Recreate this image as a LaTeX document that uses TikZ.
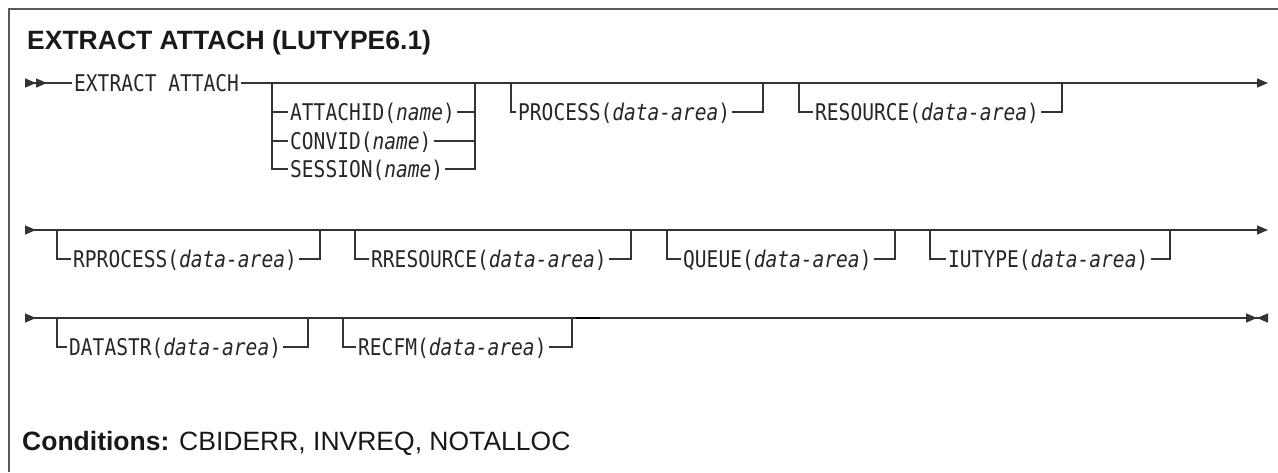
\documentclass[tikz,border=0pt]{standalone}
\usepackage{fontspec}
\setmainfont{Liberation Sans}
\newfontfamily\synfont[FakeStretch=0.85]{DejaVu Sans Mono}
\usetikzlibrary{arrows.meta}

\begin{document}
\begin{tikzpicture}[x=1pt,y=-1pt,
  rtip/.tip={Triangle[length=11pt,width=9pt]},
  ltip/.tip={Triangle[length=11pt,width=9pt,reversed]},
  rail/.style={line width=1.3pt,draw=black!80},
  frame/.style={line width=1.5pt,draw=black!65},
  syn/.style={font=\synfont\fontsize{23}{23}\selectfont,text=black!85,
    inner xsep=2pt,inner ysep=0pt,text height=16.8pt,text depth=0pt,anchor=west},
  head/.style={font=\bfseries\fontsize{26.5}{26.5}\selectfont,text=black!90,
    inner sep=0pt,anchor=base west},
  cond/.style={font=\fontsize{26.5}{26.5}\selectfont,text=black!90,
    inner sep=0pt,anchor=base west}]
  \useasboundingbox (0,0) rectangle (1278,472);
  \draw[frame] (9,472) -- (9,9) -- (1278,9);

  \node[head] (title) at (27,49) {EXTRACT ATTACH (LUTYPE6.1)};

  % first line
  \coordinate (r1s) at (25,83);
  \coordinate (r1e) at (1268,83);
  \node[syn] (cmd) at (72,83) {EXTRACT ATTACH};
  \draw[rail,{ltip[]ltip[]}-] (r1s) -- (cmd.west);
  \draw[rail,-rtip] (cmd.east) -- (r1e);

  \coordinate (a1) at (272,83);  \coordinate (a2) at (475,83);
  \coordinate (b1) at (511,83);  \coordinate (b2) at (763,83);
  \coordinate (c1) at (799,83);  \coordinate (c2) at (1062,83);
  \node[syn] (attachid) at (288,112) {ATTACHID(\textit{name})};
  \node[syn] (convid) at (288,141) {CONVID(\textit{name})};
  \node[syn] (session) at (288,169) {SESSION(\textit{name})};
  \node[syn] (process) at (516,112) {PROCESS(\textit{data-area})};
  \node[syn] (resource) at (813,112) {RESOURCE(\textit{data-area})};
  \foreach \n in {attachid,convid,session}{
    \draw[rail] (a1) |- (\n.west);
    \draw[rail] (\n.east) -| (a2);
  }
  \draw[rail] (b1) |- (process.west);
  \draw[rail] (process.east) -| (b2);
  \draw[rail] (c1) |- (resource.west);
  \draw[rail] (resource.east) -| (c2);

  % second line
  \coordinate (r2s) at (25,230);
  \coordinate (r2e) at (1268,230);
  \draw[rail,ltip-rtip] (r2s) -- (r2e);
  \coordinate (d1) at (57,230);   \coordinate (d2) at (320,230);
  \coordinate (e1) at (355,230);  \coordinate (e2) at (631,230);
  \coordinate (f1) at (667,230);  \coordinate (f2) at (895,230);
  \coordinate (g1) at (930,230);  \coordinate (g2) at (1170,230);
  \node[syn] (rprocess) at (71,259) {RPROCESS(\textit{data-area})};
  \node[syn] (rresource) at (369,259) {RRESOURCE(\textit{data-area})};
  \node[syn] (queue) at (681,259) {QUEUE(\textit{data-area})};
  \node[syn] (iutype) at (946,259) {IUTYPE(\textit{data-area})};
  \draw[rail] (d1) |- (rprocess.west);
  \draw[rail] (rprocess.east) -| (d2);
  \draw[rail] (e1) |- (rresource.west);
  \draw[rail] (rresource.east) -| (e2);
  \draw[rail] (f1) |- (queue.west);
  \draw[rail] (queue.east) -| (f2);
  \draw[rail] (g1) |- (iutype.west);
  \draw[rail] (iutype.east) -| (g2);

  % third line
  \coordinate (r3s) at (25,318);
  \coordinate (r3e) at (1268,318);
  \draw[rail,ltip-{rtip[]ltip[]}] (r3s) -- (r3e);
  \coordinate (h1) at (57,318);   \coordinate (h2) at (308,318);
  \coordinate (k1) at (343,318);  \coordinate (k2) at (572,318);
  \coordinate (k3) at (600,318);
  \node[syn] (datastr) at (67,347) {DATASTR(\textit{data-area})};
  \node[syn] (recfm) at (356,347) {RECFM(\textit{data-area})};
  \draw[rail] (h1) |- (datastr.west);
  \draw[rail] (datastr.east) -| (h2);
  \draw[rail] (k1) |- (recfm.west);
  \draw[rail] (recfm.east) -| (k2);
  \draw[rail,line width=2.6pt,draw=black] ([xshift=4pt]k2) -- (k3);

  \node[cond] (conds) at (22,450) {\textbf{Conditions:} CBIDERR, INVREQ, NOTALLOC};
\end{tikzpicture}
\end{document}
